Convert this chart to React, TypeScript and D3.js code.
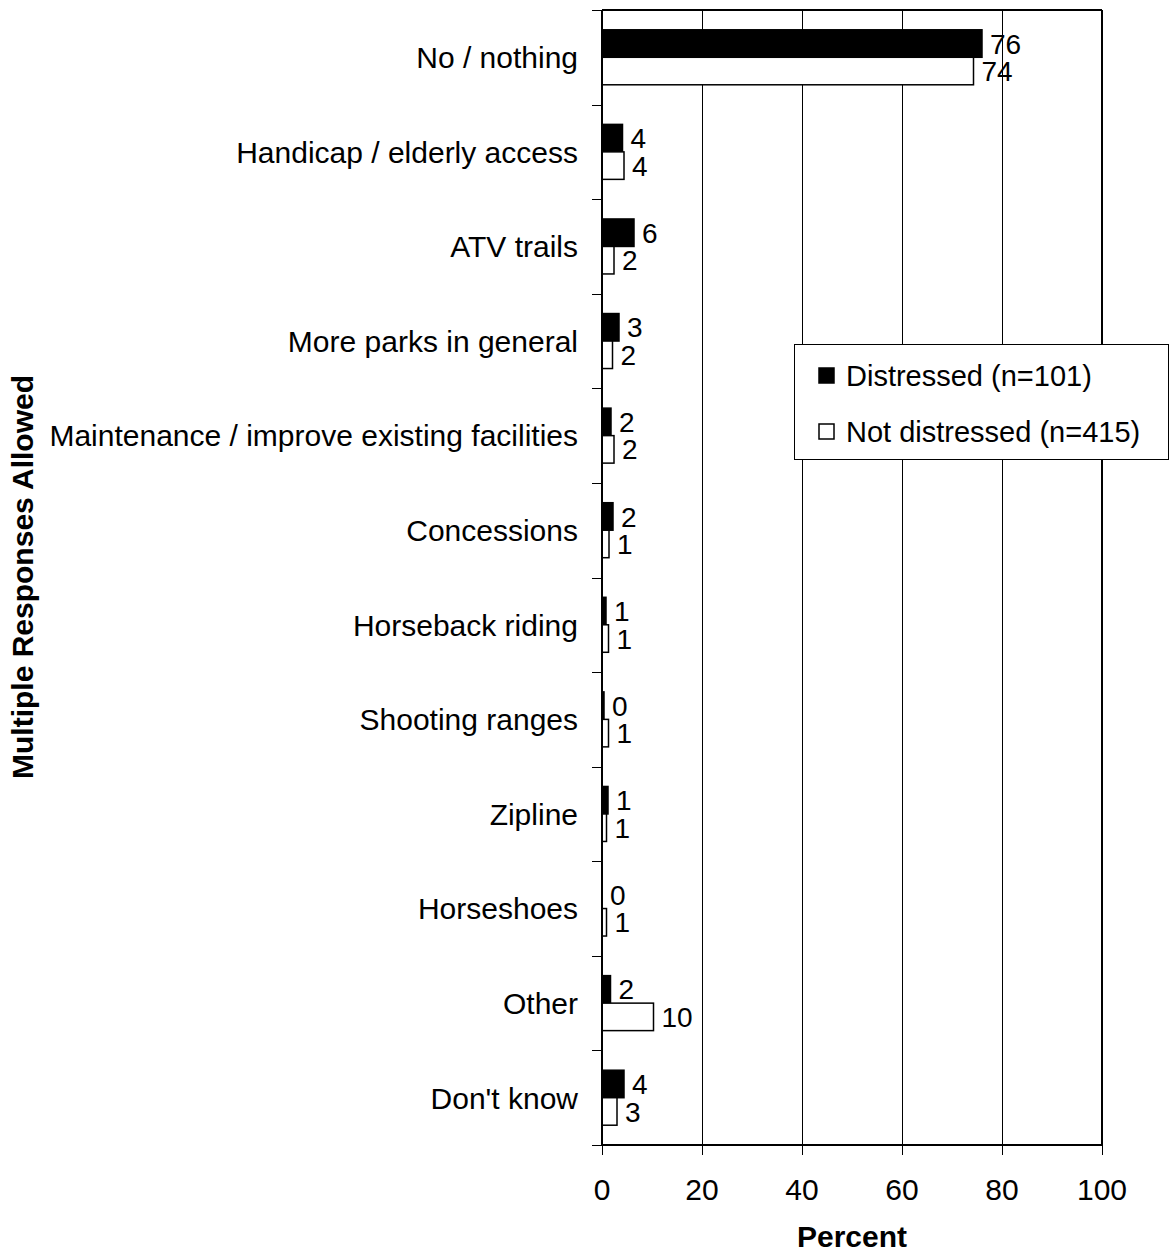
import React from "react";
import * as d3 from "d3";

const categories = [
  "No / nothing",
  "Handicap / elderly access",
  "ATV trails",
  "More parks in general",
  "Maintenance / improve existing facilities",
  "Concessions",
  "Horseback riding",
  "Shooting ranges",
  "Zipline",
  "Horseshoes",
  "Other",
  "Don't know",
];
const distressed = [76.0, 4.1, 6.4, 3.4, 1.8, 2.2, 0.8, 0.4, 1.2, 0, 1.7, 4.4];
const notDistressed = [74.3, 4.4, 2.4, 2.1, 2.4, 1.4, 1.3, 1.3, 0.9, 0.9, 10.3, 3.0];
const seriesNames = ["Distressed (n=101)", "Not distressed (n=415)"];
const xTicks = [0, 20, 40, 60, 80, 100];

const W = 1171;
const H = 1254;
const FONT = "'Liberation Sans', Arial, Helvetica, sans-serif";

export default function App() {
  const left = 602, right = 1102, top = 10, bottom = 1145;
  const x = d3.scaleLinear().domain([0, 100]).range([left, right]);
  const y = d3.scaleBand<string>().domain(categories).range([top, bottom]).padding(0);
  const sub = d3
    .scaleBand<string>()
    .domain(["d", "n"])
    .range([0, y.bandwidth()])
    .paddingInner(0)
    .paddingOuter(0.72);
  const series = [
    { key: "d", values: distressed, fill: "#000" },
    { key: "n", values: notDistressed, fill: "#fff" },
  ];
  const boundaries = categories.map((c) => y(c)!).concat([bottom]);

  return (
    <svg
      width={W}
      height={H}
      style={{ position: "absolute", left: 0, top: 0, display: "block", background: "#fff" }}
      fontFamily={FONT}
    >
      <rect x={0} y={0} width={W} height={H} fill="#fff" />
      {/* gridlines */}
      {xTicks.slice(1, -1).map((t) => (
        <line key={"g" + t} x1={x(t) + 0.5} x2={x(t) + 0.5} y1={top} y2={bottom} stroke="#000" strokeWidth={1} />
      ))}
      {/* frame top/right */}
      <line x1={left} x2={right} y1={top} y2={top} stroke="#000" strokeWidth={2} />
      <line x1={right} x2={right} y1={top} y2={bottom} stroke="#000" strokeWidth={2} />
      {/* bars */}
      {series.map((s) =>
        categories.map((c, i) => {
          const v = s.values[i];
          const by = y(c)! + sub(s.key)!;
          const bh = sub.bandwidth();
          return (
            <g key={s.key + c}>
              {v > 0 && (
                <rect
                  x={x(0)}
                  y={by}
                  width={x(v) - x(0)}
                  height={bh}
                  fill={s.fill}
                  stroke="#000"
                  strokeWidth={1.5}
                />
              )}
              <text
                x={x(v) + 8}
                y={by + bh / 2}
                dy="0.36em"
                fontSize={28}
                fill="#000"
              >
                {Math.round(v)}
              </text>
            </g>
          );
        })
      )}
      {/* axes */}
      <line x1={left} x2={left} y1={top} y2={bottom} stroke="#000" strokeWidth={2} />
      <line x1={left} x2={right} y1={bottom} y2={bottom} stroke="#000" strokeWidth={2} />
      {boundaries.map((b, i) => (
        <line key={"yt" + i} x1={left - 10} x2={left} y1={Math.round(b) + 0.5} y2={Math.round(b) + 0.5} stroke="#000" strokeWidth={1} />
      ))}
      {xTicks.map((t) => (
        <g key={"xt" + t}>
          <line x1={x(t) + 0.5} x2={x(t) + 0.5} y1={bottom} y2={bottom + 10} stroke="#000" strokeWidth={1} />
          <text x={x(t)} y={1200} textAnchor="middle" fontSize={30} fill="#000">
            {t}
          </text>
        </g>
      ))}
      {categories.map((c) => (
        <text
          key={"cl" + c}
          x={578}
          y={y(c)! + y.bandwidth() / 2}
          dy="0.36em"
          textAnchor="end"
          fontSize={30}
          fill="#000"
        >
          {c}
        </text>
      ))}
      {/* axis titles */}
      <text x={852} y={1247} textAnchor="middle" fontSize={30} fontWeight="bold" fill="#000">
        Percent
      </text>
      <text
        transform={`translate(33, 577) rotate(-90)`}
        textAnchor="middle"
        fontSize={30}
        fontWeight="bold"
        fill="#000"
      >
        Multiple Responses Allowed
      </text>
      {/* legend */}
      <g>
        <rect x={794.5} y={344.5} width={374} height={115} fill="#fff" stroke="#000" strokeWidth={1} />
        {seriesNames.map((n, i) => (
          <g key={n} transform={`translate(0, ${376 + i * 56})`}>
            <rect
              x={819}
              y={-8}
              width={15}
              height={15}
              fill={i === 0 ? "#000" : "#fff"}
              stroke="#000"
              strokeWidth={1.5}
            />
            <text x={846} y={0} dy="0.36em" fontSize={29} fill="#000">
              {n}
            </text>
          </g>
        ))}
      </g>
    </svg>
  );
}
